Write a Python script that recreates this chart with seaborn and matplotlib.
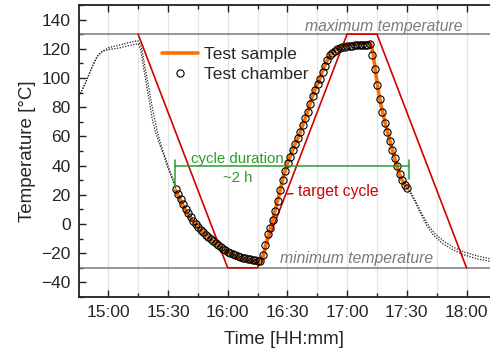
import numpy as np
import pandas as pd
import matplotlib
matplotlib.use("Agg")
import matplotlib.pyplot as plt
from matplotlib.ticker import MultipleLocator, FixedLocator
from matplotlib.lines import Line2D
import seaborn as sns

# ---------------- data (minutes after 15:00, temperature in degC) ----------------
chamber_t = [33.9, 35.15, 36.4, 37.65, 38.9, 40.15, 41.4, 42.65, 43.9, 45.15, 46.4, 47.65,
             48.9, 50.15, 51.4, 52.65, 53.9, 55.15, 56.4, 57.65, 58.9, 60.15, 61.4, 62.65,
             63.9, 65.15, 66.4, 67.65, 68.9, 70.15, 71.4, 72.65, 73.9, 75.15, 76.4, 77.65,
             78.9, 80.15, 81.4, 82.65, 83.9, 85.15, 86.4, 87.65, 88.9, 90.15, 91.4, 92.65,
             93.9, 95.15, 96.4, 97.65, 98.9, 100.15, 101.4, 102.65, 103.9, 105.15, 106.4,
             107.65, 108.9, 110.15, 111.4, 112.65, 113.9, 115.15, 116.4, 117.65, 118.9,
             120.15, 121.4, 122.65, 123.9, 125.15, 126.4, 127.65, 128.9, 130.15, 131.4,
             132.65, 133.9, 135.15, 136.4, 137.65, 138.9, 140.15, 141.4, 142.65, 143.9,
             145.15, 146.4, 147.65, 148.9, 150.15]
chamber_T = [23.9, 20.3, 16.8, 13.5, 10.3, 7.2, 4.5, 2.0, -0.2, -2.2, -4.0, -5.7,
             -7.2, -8.7, -10.1, -11.5, -12.9, -14.3, -15.6, -16.8, -18.0, -19.1, -20.0, -20.8,
             -21.5, -22.1, -22.6, -23.1, -23.5, -23.9, -24.2, -24.5, -24.8, -25.1, -25.3, -21.5,
             -14.5, -7.0, -2.5, 3.0, 9.0, 16.0, 23.0, 30.0, 36.0, 41.5, 46.0, 50.5,
             55.0, 59.0, 63.0, 67.5, 72.5, 77.0, 82.0, 87.5, 92.0, 96.0, 99.5,
             104.0, 108.5, 112.5, 115.5, 117.3, 118.6, 119.6, 120.4, 121.0, 121.4,
             121.7, 122.0, 122.2, 122.4, 122.5, 122.6, 122.7, 122.8, 122.9, 123.0,
             116.0, 106.0, 95.0, 85.5, 77.0, 69.5, 63.0, 57.0, 51.0, 45.5,
             39.5, 34.0, 30.0, 27.0, 24.5]

sample_t = [33.9, 35.0, 36.5, 38.0, 39.5, 41.0, 43.0, 45.0, 47.5, 50.0, 52.5, 55.0, 57.5,
            60.0, 62.5, 65.0, 67.5, 70.0, 72.5, 75.0, 76.9, 77.8, 79.6, 82.0, 84.0, 86.0,
            88.0, 90.0, 92.0, 94.0, 96.0, 98.0, 100.0, 102.0, 104.0, 106.0, 108.0, 110.0,
            112.0, 114.0, 116.0, 119.0, 122.0, 125.0, 128.0, 131.8, 133.0, 134.3, 135.6,
            137.0, 139.0, 141.0, 143.0, 145.0, 147.0, 149.0, 150.6]
sample_T = [23.0, 19.8, 15.5, 11.5, 8.0, 4.8, 1.0, -2.0, -5.5, -8.6, -11.6, -14.5, -17.1,
            -19.4, -21.3, -22.7, -23.7, -24.5, -25.2, -25.7, -26.0, -23.0, -11.5, -0.5, 10.0, 21.0,
            32.5, 41.5, 48.5, 55.0, 61.0, 69.0, 76.0, 85.0, 92.5, 98.5, 106.0, 112.0,
            116.5, 119.5, 121.0, 122.3, 123.0, 123.4, 123.8, 124.2, 117.0, 104.0, 92.0,
            81.5, 70.0, 59.5, 49.5, 40.0, 31.5, 27.0, 24.5]

# data outside the highlighted cycle (dotted)
prev_sample_t = [-14.7, -11.4, -8.0, -5.5, -3.0, 0.3, 5.4, 10.4, 14.8, 16.5, 17.5, 18.6, 19.6,
                 20.5, 21.5, 23.0, 24.5, 26.2, 28.5, 30.5, 32.5, 34.2]
prev_sample_T = [87.6, 96.7, 108.0, 114.9, 118.3, 120.8, 122.5, 124.2, 125.6, 122.0, 115.0, 106.5,
                 99.0, 92.0, 84.5, 74.0, 64.0, 55.5, 46.0, 38.0, 31.0, 24.0]
prev_chamber_t = [-14.7, -11.4, -8.0, -5.5, -3.0, 0.3, 5.4, 10.4, 15.1, 16.3, 17.1, 17.9, 18.8,
                  19.6, 20.5, 22.1, 23.8, 25.5, 28.0, 29.6, 32.2, 33.9]
prev_chamber_T = [87.6, 96.7, 108.0, 114.9, 118.3, 119.5, 120.5, 122.2, 123.5, 119.4, 112.6, 105.8,
                  99.0, 92.2, 85.3, 71.7, 62.5, 55.7, 46.6, 39.8, 30.7, 23.9]
next_chamber_t = [150.15, 152.0, 154.1, 156.6, 160.0, 163.3, 168.3, 173.4, 178.4, 185.1, 191.8]
next_chamber_T = [24.5, 20.5, 15.5, 8.0, -1.0, -7.5, -13.7, -17.8, -21.0, -23.8, -25.6]
next_sample_t = [150.6, 152.5, 154.5, 157.0, 160.5, 164.0, 169.0, 174.0, 179.0, 185.1, 191.8]
next_sample_T = [24.5, 20.5, 15.5, 8.5, 0.0, -6.5, -12.2, -16.3, -19.3, -21.8, -23.8]

# target cycle
target_t = [15, 60, 75, 120, 135, 180]
target_T = [130, -30, -30, 130, 130, -30]

max_temp = 130
min_temp = -30

xtick_pos = [0, 30, 60, 90, 120, 150, 180]
xtick_labels = ["15:00", "15:30", "16:00", "16:30", "17:00", "17:30", "18:00"]

# ---------------- styling ----------------
sns.set_theme(style="ticks")
plt.rcParams["font.family"] = ["Liberation Sans", "DejaVu Sans"]

ORANGE = "#ff6f00"
RED = "#d40000"
GREEN = "#2e9a2e"
GRAY = "#7a7a7a"

fig = plt.figure(figsize=(4.9, 3.56), dpi=100)
ax = fig.add_axes([0.1612, 0.1657, 0.8388, 0.8203])

# grid (vertical only)
for xv in range(-15, 195, 15):
    ax.axvline(xv, color="#e4e4e4", lw=0.9, zorder=0)

ax.axhline(max_temp, color=GRAY, lw=1.1, zorder=1)
ax.axhline(min_temp, color=GRAY, lw=1.1, zorder=1)

dot_kw = dict(color="#222222", lw=0.9, linestyle=(0, (1, 1.2)), sort=False, estimator=None, zorder=2)
for tt, TT in [(prev_sample_t, prev_sample_T), (prev_chamber_t, prev_chamber_T),
               (next_sample_t, next_sample_T), (next_chamber_t, next_chamber_T)]:
    sns.lineplot(x=tt, y=TT, ax=ax, **dot_kw)

sns.lineplot(x=target_t, y=target_T, ax=ax, color=RED, lw=1.2, sort=False, estimator=None, zorder=3)
sns.lineplot(x=sample_t, y=sample_T, ax=ax, color=ORANGE, lw=2.6, sort=False, estimator=None, zorder=4)
sns.lineplot(x=chamber_t, y=chamber_T, ax=ax, linestyle="", marker="o", markersize=5.2,
             markerfacecolor="none", markeredgecolor="black", markeredgewidth=0.8,
             sort=False, estimator=None, zorder=5)

# annotations
ax.text(178.2, 135.6, "maximum temperature", ha="right", va="center", style="italic",
        color=GRAY, fontsize=11.3)
ax.text(163.2, -23.4, "minimum temperature", ha="right", va="center", style="italic",
        color=GRAY, fontsize=11.3)

ax.plot([33.7, 33.7], [43.5, 25.5], color=GREEN, lw=1.1, zorder=6)
ax.plot([151.0, 151.0], [43.5, 31.0], color=GREEN, lw=1.1, zorder=6)
ax.plot([33.7, 151.0], [40.0, 40.0], color=GREEN, lw=1.1, zorder=6)
ax.text(64.8, 44.2, "cycle duration", ha="center", va="center", color=GREEN, fontsize=10.8)
ax.text(65.2, 31.4, "~2 h", ha="center", va="center", color=GREEN, fontsize=10.8)

ax.annotate("target cycle", xy=(89.9, 20.6), xytext=(95.2, 22.3), ha="left", va="center",
            color=RED, fontsize=11.3,
            arrowprops=dict(arrowstyle="-", color=RED, lw=1.0, shrinkA=1, shrinkB=0))

# axes
ax.set_xlim(-14.7, 191.8)
ax.set_ylim(-50, 150)
ax.xaxis.set_major_locator(FixedLocator(xtick_pos))
ax.set_xticklabels(xtick_labels)
ax.xaxis.set_minor_locator(MultipleLocator(15))
ax.yaxis.set_major_locator(MultipleLocator(20))
ax.yaxis.set_minor_locator(MultipleLocator(10))
ax.tick_params(which="both", direction="in", top=True, right=False, color="#222222",
               labelsize=12.5, width=1.0)
ax.tick_params(which="major", length=5, pad=6)
ax.tick_params(which="minor", length=3)
for s in ["left", "bottom", "top"]:
    ax.spines[s].set_linewidth(1.3)
    ax.spines[s].set_color("#222222")
ax.spines["right"].set_visible(False)

ax.set_xlabel("Time [HH:mm]", fontsize=13.5, labelpad=8)
ax.set_ylabel("Temperature [°C]", fontsize=13.5, labelpad=4)

handles = [Line2D([], [], color=ORANGE, lw=2.6),
           Line2D([], [], linestyle="", marker="o", markersize=5.2, markerfacecolor="none",
                  markeredgecolor="black", markeredgewidth=0.8)]
ax.legend(handles, ["Test sample", "Test chamber"], loc="upper left",
          bbox_to_anchor=(0.172, 0.898), frameon=False, fontsize=12.5,
          handlelength=2.1, handletextpad=0.35, labelspacing=0.3, borderpad=0.2)

fig.savefig("out.png", dpi=100)
